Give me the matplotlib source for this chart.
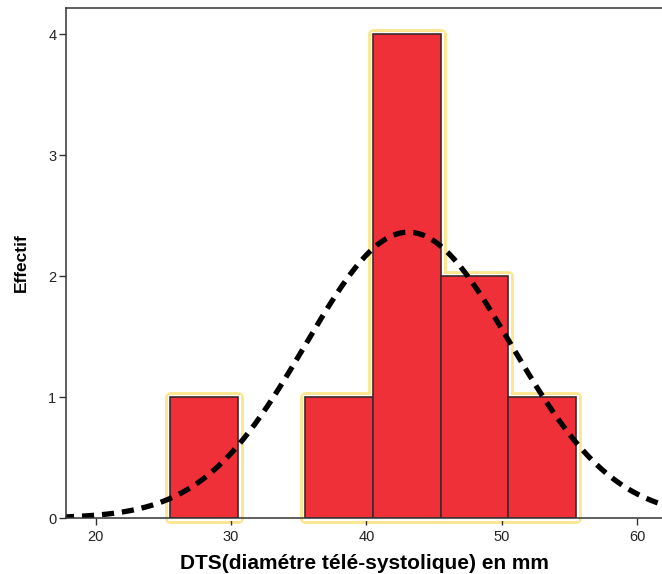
import numpy as np
import matplotlib
matplotlib.use('Agg')
import matplotlib.pyplot as plt

plt.rcParams['font.family'] = ['Liberation Sans', 'DejaVu Sans']

# histogram bins (mm) and counts
bin_left = [25.5, 35.5, 40.5, 45.5, 50.5]
bin_width = 5.0
counts = [1, 1, 4, 2, 1]

# normal curve parameters
mean_dts = 43.1
sd_dts = 7.6
n_obs = 9

fig = plt.figure(figsize=(6.62, 5.74), dpi=100)
ax = fig.add_axes([66 / 662, 56 / 574, 596 / 662, 510 / 574])

# glow outline behind the bars
ax.bar(bin_left, counts, width=bin_width, align='edge', color='none',
       edgecolor='#fde68f', linewidth=7.8, zorder=1, joinstyle='round', clip_on=False)
ax.bar(bin_left, counts, width=bin_width, align='edge', color='white',
       edgecolor='white', linewidth=3.6, zorder=2, clip_on=False)
ax.bar(bin_left, counts, width=bin_width, align='edge', color='#ef3039',
       edgecolor='#3b2a2a', linewidth=1.2, zorder=3)

xs = np.linspace(17.5, 62, 400)
ys = n_obs * bin_width / (sd_dts * np.sqrt(2 * np.pi)) * np.exp(-0.5 * ((xs - mean_dts) / sd_dts) ** 2)
ax.plot(xs, ys, color='black', linewidth=3.8, linestyle=(0, (2.3, 1.5)),
        dash_capstyle='butt', zorder=4)

ax.set_xlim(17.8, 61.85)
ax.set_ylim(0, 4.215)
ax.set_xticks([20, 30, 40, 50, 60])
ax.set_yticks([0, 1, 2, 3, 4])
ax.tick_params(axis='both', direction='out', length=5, width=1, colors='#333333',
               labelsize=10.5, labelcolor='#222222')
ax.tick_params(axis='y', pad=2)

for side in ['left', 'top', 'bottom']:
    ax.spines[side].set_color('#333333')
    ax.spines[side].set_linewidth(1.1)
    ax.spines[side].set_zorder(5)
ax.spines['right'].set_visible(False)

ax.set_xlabel('DTS(diamétre télé-systolique) en mm', fontsize=15, fontweight='bold',
              labelpad=7)
ax.set_ylabel('Effectif', fontsize=12.5, fontweight='bold', labelpad=14)

fig.savefig('out.png', dpi=100)
